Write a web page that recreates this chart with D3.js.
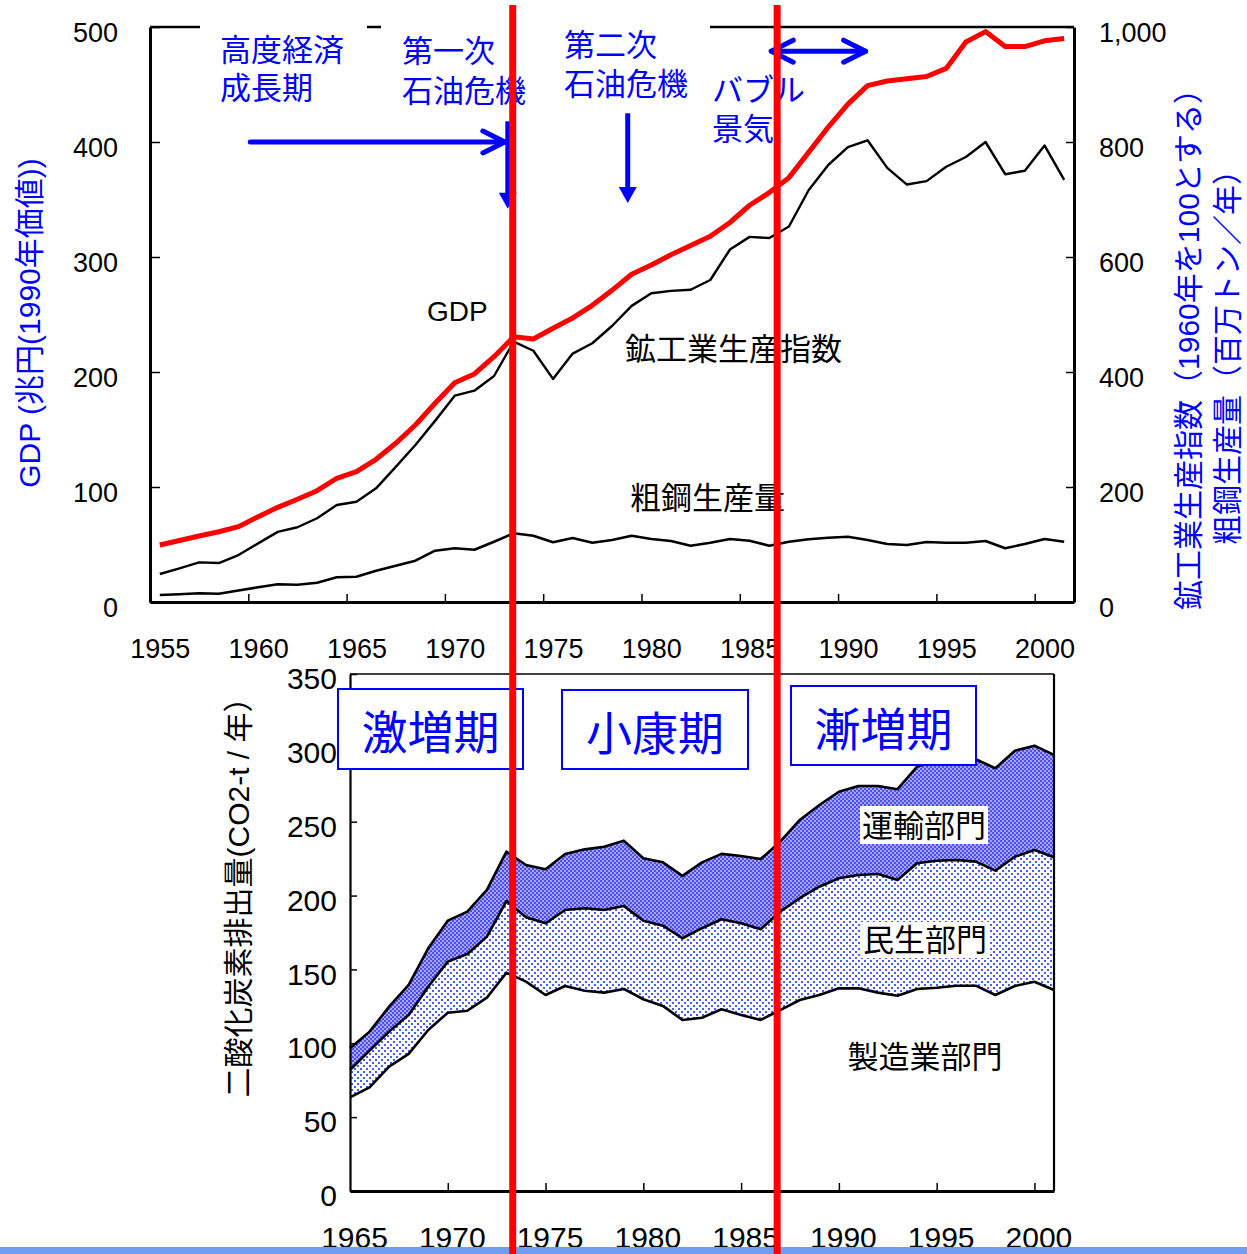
<!DOCTYPE html>
<html><head><meta charset="utf-8">
<script src="https://cdn.jsdelivr.net/npm/d3@7"></script>
<style>body{margin:0;background:#fff} svg{display:block}</style>
</head><body>
<svg id="c" width="1247" height="1254"></svg>
<script>
// ---------------- DATA ----------------
const topYears = [1955,1956,1957,1958,1959,1960,1961,1962,1963,1964,1965,1966,1967,1968,1969,1970,1971,1972,1973,1974,1975,1976,1977,1978,1979,1980,1981,1982,1983,1984,1985,1986,1987,1988,1989,1990,1991,1992,1993,1994,1995,1996,1997,1998,1999,2000,2001];
// GDP (兆円, 1990年価値) - left axis
const gdp = [49.6,53.5,57.4,61.1,65.5,74.2,82.3,89.3,96.8,107.6,113.3,124.1,138,153.9,172.8,190.7,198.3,213.3,230.7,228.7,238,247,258,271,285,293,302,310,318,330,345,356,369,391,413,433,449,453,455,457,464,487,496,483,483,488,490];
// 鉱工業生産指数 (1960=100) - right axis
const iip = [48.7,58.6,69,67.8,81.7,102,122,130,145.6,168.7,174.4,197.7,235,273,315,358.8,367.5,393,452.7,437,388,432,450,480,515,537,541,543,560,613,635,633,653,716,760,791,803,755,726,732,757,774,800,744,750,794,734];
// 粗鋼生産量 (百万トン/年) - right axis
const steel = [12.2,13.4,15.1,14.4,20,25.6,30.8,30.1,33.6,43,44,54.4,63.1,71.8,89.2,93.4,91,104.9,119.5,115.3,103.8,111.3,103.1,107.8,115.3,109.6,106.1,97.9,103.1,109.6,106.6,97.9,104.9,109,111.8,113.6,107.8,100.9,99.1,104.3,103.1,103.1,106.1,93.4,100.9,109.6,104.9];
const gdpTicks = [0,100,200,300,400,500];
const rightTicks = [0,200,400,600,800,1000];
const topTickYears = [1960,1965,1970,1975,1980,1985,1990,1995,2000];
const topLabelYears = [1955,1960,1965,1970,1975,1980,1985,1990,1995,2000];

const co2Years = [1965,1966,1967,1968,1969,1970,1971,1972,1973,1974,1975,1976,1977,1978,1979,1980,1981,1982,1983,1984,1985,1986,1987,1988,1989,1990,1991,1992,1993,1994,1995,1996,1997,1998,1999,2000,2001];
const manufacturing = [63.4,70.2,84.2,92.8,109,120.7,122,130.9,147.8,141.7,132.7,138.8,135.6,134.3,136.8,129.8,125.3,115.8,117.3,123,119.2,115.8,122.5,129.3,132.7,137.2,137.2,134.3,132.2,136.8,137.6,139,139,132.7,138.8,141.7,136.1];
const residential = [18.5,24.8,23.7,26.4,29.3,34.6,38.5,41.3,48.5,43.6,48.5,51.4,55.8,55.9,56.2,53.2,54.3,55.3,60.6,61,62,61.4,66.6,68.9,73.3,74.5,76.7,80.3,78.4,85.1,86,85.1,84,84.2,87.5,89.2,89.8];
const transport = [14.7,12.9,16.9,20.3,26,27.7,28.6,31.6,33.4,35.4,36.6,38,39.9,42.9,44.2,42.3,42.9,42.2,44.6,44.2,45.6,47.5,47.4,53,55.3,58.6,60.3,59.6,61.4,65.4,67.5,68.2,69.3,69.3,71.8,70.6,69.3];
const co2Ticks = [0,50,100,150,200,250,300,350];
const co2TickYears = [1970,1975,1980,1985,1990,1995,2000];
const co2LabelYears = [1965,1970,1975,1980,1985,1990,1995,2000];

const periodLines = [1973.45, 1986.9];

// ---------------- SETUP ----------------
const FONT = '"Liberation Sans", Arial, "Noto Sans CJK JP", sans-serif';
const BLUE = '#0000ff';
const svg = d3.select('#c');
svg.append('rect').attr('width',1247).attr('height',1254).attr('fill','#fff');

const defs = svg.append('defs');
const chk = defs.append('pattern').attr('id','checker').attr('patternUnits','userSpaceOnUse').attr('width',4).attr('height',4);
chk.append('rect').attr('width',4).attr('height',4).attr('fill','#a4a4ff');
chk.append('rect').attr('width',2).attr('height',2).attr('fill','#4f4ff0');
chk.append('rect').attr('x',2).attr('y',2).attr('width',2).attr('height',2).attr('fill','#4f4ff0');
const dots = defs.append('pattern').attr('id','dots').attr('patternUnits','userSpaceOnUse').attr('width',6).attr('height',6);
dots.append('rect').attr('width',6).attr('height',6).attr('fill','#fff');
dots.append('rect').attr('x',0).attr('y',0).attr('width',2).attr('height',2).attr('fill','#4b5cff');
dots.append('rect').attr('x',3).attr('y',3).attr('width',2).attr('height',2).attr('fill','#4b5cff');

function styleAxis(g, size, pathW, tickW) {
  g.attr('font-size', size).attr('font-family', FONT);
  g.select('.domain').attr('stroke','#000').attr('stroke-width', pathW);
  g.selectAll('.tick line').attr('stroke','#000').attr('stroke-width', tickW);
  g.selectAll('.tick text').attr('fill','#000');
}
function label(g, t, x, y, size, color, anchor) {
  return g.append('text').text(t).attr('x',x).attr('y',y + 0.37*size)
    .attr('font-size',size).attr('font-family',FONT).attr('fill',color||'#000')
    .attr('text-anchor',anchor||'start');
}
function vlabel(g, t, x, y, size, color) {
  return g.append('text').text(t).attr('transform',`translate(${x},${y}) rotate(-90)`)
    .attr('dy','0.36em').attr('text-anchor','middle')
    .attr('font-size',size).attr('font-family',FONT).attr('fill',color);
}

// ---------------- TOP CHART ----------------
const xT = d3.scaleLinear().domain([1955, 2002]).range([150, 1074]);
const yL = d3.scaleLinear().domain([0, 500]).range([602, 27]);
const yR = d3.scaleLinear().domain([0, 1000]).range([602, 27]);
const gT = svg.append('g');

const mkLine = (vals, sc) => d3.line().x((d,i)=>xT(topYears[i]+0.5)).y(d=>sc(d))(vals);
gT.append('path').attr('d', mkLine(steel, yR)).attr('fill','none').attr('stroke','#000').attr('stroke-width',2.6).attr('stroke-linejoin','round');
gT.append('path').attr('d', mkLine(iip, yR)).attr('fill','none').attr('stroke','#000').attr('stroke-width',2.4).attr('stroke-linejoin','round');
gT.append('path').attr('d', mkLine(gdp, yL)).attr('fill','none').attr('stroke','#ff0000').attr('stroke-width',5).attr('stroke-linejoin','round');

// axes
gT.append('g').attr('transform','translate(150,0)')
  .call(d3.axisLeft(yL).tickValues(gdpTicks).tickSizeInner(-10).tickSizeOuter(0).tickPadding(32))
  .call(g=>styleAxis(g,27,3,1.5)).call(g=>g.selectAll('.tick text').attr('dy','0.55em'));
gT.append('g').attr('transform','translate(1074,0)')
  .call(d3.axisRight(yR).tickValues(rightTicks).tickSizeInner(-8).tickSizeOuter(0).tickPadding(25).tickFormat(d3.format(',')))
  .call(g=>styleAxis(g,27,3,1.5)).call(g=>g.selectAll('.tick text').attr('dy','0.55em'));
gT.append('g').attr('transform','translate(0,602)')
  .call(d3.axisBottom(xT).tickValues(topTickYears).tickSizeInner(-8).tickSizeOuter(0).tickFormat(''))
  .call(g=>styleAxis(g,27,3,1.5));
gT.append('g').attr('transform','translate(0,602)')
  .call(d3.axisBottom(xT).tickValues(topLabelYears.map(y=>y+0.5)).tickSize(0).tickPadding(37).tickFormat(d=>String(d-0.5)))
  .call(g=>styleAxis(g,27,0,0)).call(g=>g.select('.domain').remove());
// top border
gT.append('line').attr('x1',xT(1955)).attr('x2',xT(2002)).attr('y1',yL(500)).attr('y2',yL(500)).attr('stroke','#000').attr('stroke-width',2.6);
// label backgrounds covering top border
gT.append('rect').attr('x',200).attr('y',20).attr('width',167).attr('height',14).attr('fill','#fff');
gT.append('rect').attr('x',381).attr('y',20).attr('width',329).attr('height',14).attr('fill','#fff');

// axis titles
vlabel(gT, 'GDP (兆円(1990年価値))', 29, 323, 30, BLUE);
vlabel(gT, '鉱工業生産指数（1960年を100とする）', 1188, 342, 30, BLUE);
vlabel(gT, '粗鋼生産量（百万トン／年）', 1227, 350, 30, BLUE);

// series labels
label(gT, 'GDP', 427, 311, 28);
label(gT, '鉱工業生産指数', 625, 349, 31);
label(gT, '粗鋼生産量', 630, 498, 31);

// period annotations
[['高度経済',220,50],['成長期',220,88],['第一次',402,51],['石油危機',402,91],
 ['第二次',564,45],['石油危機',564,84],['バブル',712,90],['景気',712,129]]
 .forEach(a=>label(gT, a[0], a[1], a[2], 31, BLUE));

// arrows
const arrowG = gT.append('g').attr('stroke',BLUE).attr('fill','none').attr('stroke-width',5).attr('stroke-linecap','round').attr('stroke-linejoin','round');
function hArrow(x1, x2, y, both) {
  arrowG.append('line').attr('x1',x1).attr('x2',x2).attr('y1',y).attr('y2',y);
  arrowG.append('path').attr('d',`M${x2-22},${y-11}L${x2},${y}L${x2-22},${y+11}`);
  if (both) arrowG.append('path').attr('d',`M${x1+22},${y-11}L${x1},${y}L${x1+22},${y+11}`);
}
function vArrow(x, y1, y2) {
  arrowG.append('line').attr('x1',x).attr('x2',x).attr('y1',y1).attr('y2',y2-14).attr('stroke-linecap','butt');
  gT.append('path').attr('d',`M${x-9},${y2-16}L${x+9},${y2-16}L${x},${y2}Z`).attr('fill',BLUE);
}
hArrow(xT(1960.1), xT(1973.05), yL(400), false);
vArrow(xT(1973.2), yL(418), yL(342));
vArrow(xT(1979.3), yL(425), yL(347));
hArrow(xT(1986.6), xT(1991.4), yL(479), true);

// ---------------- BOTTOM CHART ----------------
const xB = d3.scaleLinear().domain([1965, 2001]).range([350, 1054]);
const yB = d3.scaleLinear().domain([0, 350]).range([1191, 674]);
const gB = svg.append('g');
const rows = co2Years.map((y,i)=>({year:y, m:manufacturing[i], r:residential[i], t:transport[i]}));
const stack = d3.stack().keys(['m','r','t'])(rows);
const fills = {m:'#ffffff', r:'url(#dots)', t:'url(#checker)'};
const area = d3.area().x(d=>xB(d.data.year)).y0(d=>yB(d[0])).y1(d=>yB(d[1]));
const topLine = d3.line().x(d=>xB(d.data.year)).y(d=>yB(d[1]));
stack.forEach(s=>gB.append('path').attr('d',area(s)).attr('fill',fills[s.key]));
stack.forEach(s=>gB.append('path').attr('d',topLine(s)).attr('fill','none').attr('stroke','#000').attr('stroke-width',2.6).attr('stroke-linejoin','round'));

gB.append('g').attr('transform','translate(350,0)')
  .call(d3.axisLeft(yB).tickValues(co2Ticks).tickSizeInner(-7).tickSizeOuter(0).tickPadding(13))
  .call(g=>styleAxis(g,30,2.2,1.5)).call(g=>g.selectAll('.tick text').attr('dy','0.49em'));
gB.append('g').attr('transform','translate(0,1191)')
  .call(d3.axisBottom(xB).tickValues(co2TickYears).tickSizeInner(-8).tickSizeOuter(0).tickFormat(''))
  .call(g=>styleAxis(g,30,3,1.5));
gB.append('g').attr('transform','translate(0,1191)')
  .call(d3.axisBottom(xB).tickValues(co2LabelYears).tickSize(0).tickPadding(36).tickFormat(d3.format('d')))
  .call(g=>styleAxis(g,30,0,0)).call(g=>g.select('.domain').remove())
  .call(g=>g.selectAll('.tick text').attr('dx','4'));
gB.append('line').attr('x1',xB(1965)).attr('x2',xB(2001)).attr('y1',yB(350)).attr('y2',yB(350)).attr('stroke','#000').attr('stroke-width',1.6);
gB.append('line').attr('x1',xB(2001)).attr('x2',xB(2001)).attr('y1',yB(350)).attr('y2',yB(0)).attr('stroke','#000').attr('stroke-width',2.2);

vlabel(gB, '二酸化炭素排出量(CO2-t / 年）', 238, 890, 30, '#000');

// sector labels
gB.append('rect').attr('x',860).attr('y',806).attr('width',128).attr('height',38).attr('fill','#fff');
gB.append('rect').attr('x',860).attr('y',922).attr('width',129).attr('height',36).attr('fill','#fff');
label(gB, '運輸部門', 924, 826, 31, '#000', 'middle');
label(gB, '民生部門', 925, 940, 31, '#000', 'middle');
label(gB, '製造業部門', 925, 1057, 31, '#000', 'middle');

// period boxes
[['激増期',338,689,185,80],['小康期',562,690,186,79],['漸増期',791,686,185,79]].forEach(b=>{
  gB.append('rect').attr('x',b[1]).attr('y',b[2]).attr('width',b[3]).attr('height',b[4])
    .attr('fill','#fff').attr('stroke',BLUE).attr('stroke-width',2);
  label(gB, b[0], b[1]+b[3]/2, b[2]+b[4]/2+3, 46, BLUE, 'middle');
});

// ---------------- OVERLAYS ----------------
svg.append('rect').attr('x',0).attr('y',1247).attr('width',1247).attr('height',7).attr('fill','#6f9ef0');
periodLines.forEach(v=>svg.append('line').attr('x1',xT(v)).attr('x2',xT(v)).attr('y1',5).attr('y2',1254)
  .attr('stroke','#ff0000').attr('stroke-width',7));
</script>
</body></html>
